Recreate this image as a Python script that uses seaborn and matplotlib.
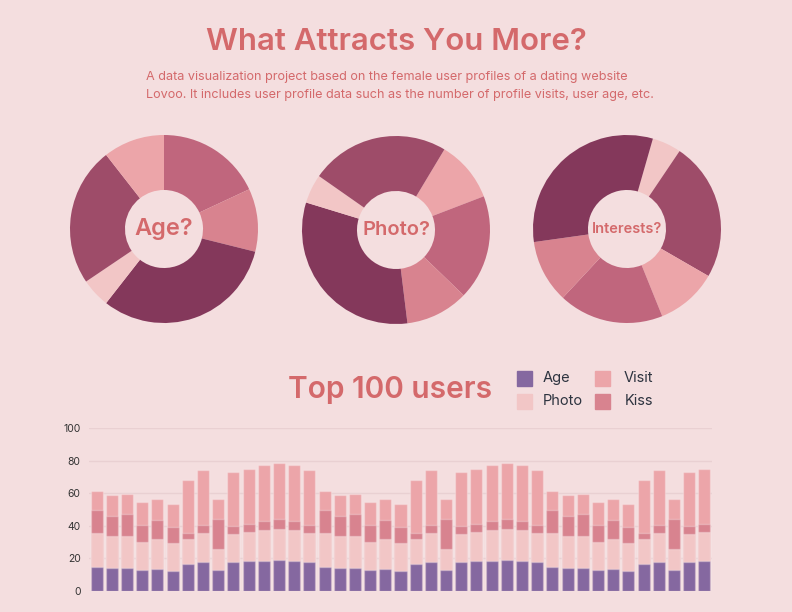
import numpy as np
import pandas as pd
import matplotlib
matplotlib.use("Agg")
import matplotlib.pyplot as plt
import seaborn as sns

# colours
bg = "#F4DEDF"
accent = "#D4696B"
pie_colors = {"dark": "#84385B", "plum": "#9E4C69", "rose": "#C0667D",
              "kiss": "#D8838F", "visit": "#ECA5A9", "light": "#F2C6C6"}

# donut slices (share of each group, in degrees round the ring), clockwise
age_slices = [65, 39, 114, 18, 86, 38]
age_keys = ["rose", "kiss", "dark", "light", "plum", "visit"]
photo_slices = [38, 65, 39, 114, 18, 86]
photo_keys = ["visit", "rose", "kiss", "dark", "light", "plum"]
interests_slices = [18, 86, 38, 65, 39, 114]
interests_keys = ["light", "plum", "visit", "rose", "kiss", "dark"]

# top 100 users - stacked values per user
age = [14.7, 14.1, 14.1, 12.6, 13.2, 12.2, 16.5, 17.9, 13.0, 17.7, 18.1,
       18.7, 19.1, 18.7, 17.9,
       14.7, 14.1, 14.1, 12.6, 13.2, 12.2, 16.5, 17.9, 13.0, 17.7, 18.1,
       18.7, 19.1, 18.7, 17.9,
       14.7, 14.1, 14.1, 12.6, 13.2, 12.2, 16.5, 17.9, 13.0, 17.7, 18.1]
photo = [20.7, 19.5, 19.9, 17.7, 18.8, 17.5, 15.7, 17.5, 12.5, 17.3, 17.9,
         18.6, 19.0, 18.6, 17.5,
         20.7, 19.5, 19.9, 17.7, 18.8, 17.5, 15.7, 17.5, 12.5, 17.3, 17.9,
         18.6, 19.0, 18.6, 17.5,
         20.7, 19.5, 19.9, 17.7, 18.8, 17.5, 15.7, 17.5, 12.5, 17.3, 17.9]
kiss = [14.5, 12.4, 13.0, 10.0, 11.4, 9.6, 3.4, 4.9, 18.5, 4.7, 4.9,
        5.5, 5.9, 5.5, 4.9,
        14.5, 12.4, 13.0, 10.0, 11.4, 9.6, 3.4, 4.9, 18.5, 4.7, 4.9,
        5.5, 5.9, 5.5, 4.9,
        14.5, 12.4, 13.0, 10.0, 11.4, 9.6, 3.4, 4.9, 18.5, 4.7, 4.9]
visit = [11.6, 12.7, 12.5, 14.1, 13.0, 14.3, 32.6, 34.2, 12.4, 33.6, 33.8,
         34.2, 34.4, 34.2, 33.8,
         11.6, 12.7, 12.5, 14.1, 13.0, 14.3, 32.6, 34.2, 12.4, 33.6, 33.8,
         34.2, 34.4, 34.2, 33.8,
         11.6, 12.7, 12.5, 14.1, 13.0, 14.3, 32.6, 34.2, 12.4, 33.6, 33.8]
yticks = [0, 20, 40, 60, 80, 100]

sns.set_theme(style="white", rc={"axes.facecolor": bg, "figure.facecolor": bg})
plt.rcParams["font.family"] = ["Inter", "DejaVu Sans"]

W, H = 792, 612
fig = plt.figure(figsize=(W / 100, H / 100), dpi=100)

fig.text(396 / W, 1 - 42 / H, "What Attracts You More?", ha="center", va="center",
         fontsize=22.5, fontweight="semibold", color=accent)
fig.text(146 / W, 1 - 86 / H,
         "A data visualization project based on the female user profiles of a dating website\n"
         "Lovoo. It includes user profile data such as the number of profile visits, user age, etc.",
         ha="left", va="center", fontsize=9.1, color=accent, linespacing=1.6)

# donuts
R = 94
pies = [(164, 229, age_slices, age_keys, 90, "Age?", 17),
        (396, 230, photo_slices, photo_keys, 59, "Photo?", 14.5),
        (627, 229, interests_slices, interests_keys, 74, "Interests?", 10.5)]
for cx, cy, sl, keys, start, label, fs in pies:
    ax = fig.add_axes([(cx - R) / W, (H - cy - R) / H, 2 * R / W, 2 * R / H])
    ax.pie(sl, colors=[pie_colors[k] for k in keys], startangle=start,
           counterclock=False, radius=1, wedgeprops=dict(width=0.585, linewidth=0))
    ax.set_xlim(-1, 1)
    ax.set_ylim(-1, 1)
    ax.set_aspect("equal")
    ax.axis("off")
    ax.text(0, 0, label, ha="center", va="center", fontsize=fs,
            fontweight="semibold", color=accent)

# stacked bars
df = pd.DataFrame({"user": np.arange(len(age)), "Age": age, "Photo": photo,
                   "Kiss": kiss, "Visit": visit})
df["c_photo"] = df["Age"] + df["Photo"]
df["c_kiss"] = df["c_photo"] + df["Kiss"]
df["c_visit"] = df["c_kiss"] + df["Visit"]

bax = fig.add_axes([89 / W, 21 / H, 623 / W, 163 / H])
edge = (1, 1, 1, 0.25)
for col, c in [("c_visit", pie_colors["visit"]), ("c_kiss", pie_colors["kiss"]),
               ("c_photo", pie_colors["light"]), ("Age", "#8568A0")]:
    sns.barplot(data=df, x="user", y=col, color=c, width=0.79, saturation=1,
                edgecolor=edge, linewidth=1, ax=bax)
bax.set_xlim(-0.5, len(age) - 0.5)
bax.set_ylim(0, 100)
bax.set_yticks(yticks)
bax.set_xticks([])
bax.set_xlabel("")
bax.set_ylabel("")
bax.tick_params(axis="y", labelsize=7.5, labelcolor="#333333", length=0, pad=6)
bax.grid(axis="y", color="#E9D0D2", linewidth=1)
bax.set_axisbelow(True)
sns.despine(ax=bax, left=True, bottom=True)

fig.text(390 / W, 1 - 390 / H, "Top 100 users", ha="center", va="center",
         fontsize=21.5, fontweight="semibold", color=accent)

# legend
leg = [("Age", "#8568A0", 517, 378, 543), ("Photo", pie_colors["light"], 517, 401, 543),
       ("Visit", pie_colors["visit"], 595, 378, 624), ("Kiss", pie_colors["kiss"], 595, 401, 625)]
for name, c, sx, sy, tx in leg:
    fig.patches.append(plt.Rectangle((sx / W, (H - sy - 7.5) / H), 15 / W, 15 / H,
                                     transform=fig.transFigure, color=c))
    fig.text(tx / W, 1 - sy / H, name, ha="left", va="center", fontsize=10.5,
             color="#2E3440")

fig.savefig("out.png", dpi=100, facecolor=bg)
